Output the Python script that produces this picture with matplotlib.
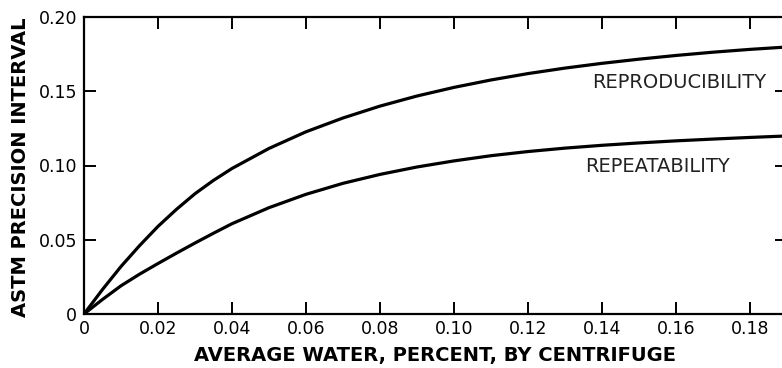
import matplotlib
matplotlib.use("Agg")
import matplotlib.pyplot as plt

# water content, percent (x) and precision intervals
water = [0, 0.005, 0.01, 0.015, 0.02, 0.025, 0.03, 0.035, 0.04, 0.05, 0.06,
         0.07, 0.08, 0.09, 0.10, 0.11, 0.12, 0.13, 0.14, 0.15, 0.16, 0.17,
         0.18, 0.19]
reproducibility = [0, 0.0165, 0.032, 0.046, 0.059, 0.0705, 0.081, 0.090,
                   0.098, 0.1115, 0.1227, 0.132, 0.140, 0.1468, 0.1526,
                   0.1576, 0.1619, 0.1656, 0.1688, 0.1716, 0.1741, 0.1763,
                   0.1782, 0.1798]
repeatability = [0, 0.0098, 0.019, 0.0268, 0.034, 0.041, 0.0478, 0.0544,
                 0.0608, 0.0716, 0.0806, 0.088, 0.094, 0.099, 0.1031,
                 0.1066, 0.1094, 0.1117, 0.1136, 0.1152, 0.1166, 0.1178,
                 0.1189, 0.1199]

xticks = [0, 0.02, 0.04, 0.06, 0.08, 0.10, 0.12, 0.14, 0.16, 0.18]
xticklabels = ['0', '0.02', '0.04', '0.06', '0.08', '0.10', '0.12', '0.14', '0.16', '0.18']
yticks = [0, 0.05, 0.10, 0.15, 0.20]
yticklabels = ['0', '0.05', '0.10', '0.15', '0.20']

plt.rcParams['font.family'] = ['DejaVu Sans']

W, H = 782, 368
fig = plt.figure(figsize=(W / 100, H / 100), dpi=100)
# axes box in pixels: left 84, top 17, bottom 314, right ~787 (cut off)
ax = fig.add_axes([84 / W, (H - 314) / H, (787 - 84) / W, (314 - 17) / H])

ax.plot(water, reproducibility, color='black', lw=2.3, solid_capstyle='round')
ax.plot(water, repeatability, color='black', lw=2.3, solid_capstyle='round')

ax.set_xlim(0, 0.19)
ax.set_ylim(0, 0.20)
ax.set_xticks(xticks)
ax.set_xticklabels(xticklabels)
ax.set_yticks(yticks)
ax.set_yticklabels(yticklabels)
ax.tick_params(direction='in', length=8.5, width=1.4, top=True, right=True,
               labelsize=12.5, colors='black', pad=4)
ax.tick_params(axis='y', pad=5)
for sp in ax.spines.values():
    sp.set_linewidth(1.6)

ax.text(0.1373, 0.1556, 'REPRODUCIBILITY', fontsize=14, ha='left', va='center',
        color='#222222')
ax.text(0.1354, 0.099, 'REPEATABILITY', fontsize=14, ha='left', va='center',
        color='#222222')

fig.text(21 / W, 1 - 167 / H, 'ASTM PRECISION INTERVAL', rotation=90,
         fontsize=14, fontweight='bold', ha='center', va='center')
fig.text(435 / W, 1 - 355 / H, 'AVERAGE WATER, PERCENT, BY CENTRIFUGE',
         fontsize=14, fontweight='bold', ha='center', va='center')

fig.savefig('out.png', dpi=100)
